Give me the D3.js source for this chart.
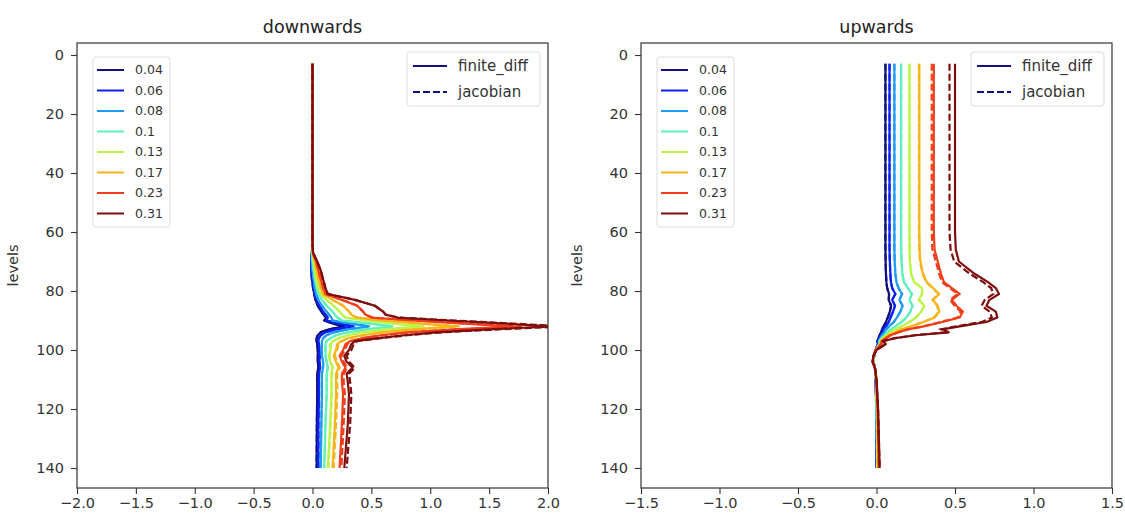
<!DOCTYPE html>
<html><head><meta charset="utf-8">
<script src="https://cdn.jsdelivr.net/npm/d3@7"></script>
<style>body{margin:0;background:#fff} text{font-family:"DejaVu Sans",sans-serif}</style>
</head><body><svg id="c" width="1125" height="517"></svg>
<script>
// ---------- DATA ----------
const seriesLabels = ["0.04","0.06","0.08","0.1","0.13","0.17","0.23","0.31"];
const seriesColors = ["#10107e","#0a22f5","#1e9cf5","#5ff0bc","#bcf548","#f8b418","#f03e1a","#7e0e0e"];
const methodLabels = ["finite_diff","jacobian"];
const yTicks = [0,20,40,60,80,100,120,140];
const xTicksDown = [-2,-1.5,-1,-0.5,0,0.5,1,1.5,2];
const xTicksUp = [-1.5,-1,-0.5,0,0.5,1,1.5];

const levelsDown = [3,64,67,70,73,76,79,81,83,85,87,88,89,90,91,92,93,94,95,96,97,98,100,102,104,106,108,111,115,125,140];
const downFD = [
 [0,0,-0.005,-0.01,-0.01,-0.005,0.005,0.015,0.025,0.045, 0.075,0.095,0.115,0.1,0.17, 0.27,0.14,0.07,0.045,0.035, 0.035,0.04,0.045,0.045,0.045, 0.05,0.04,0.04,0.04,0.037, 0.035],
 [0,0,-0.005,-0.01,-0.01,0,0.01,0.02,0.035,0.06, 0.09,0.11,0.13,0.12,0.22, 0.35,0.2,0.11,0.07,0.055, 0.05,0.055,0.06,0.06,0.06, 0.065,0.055,0.055,0.055,0.05, 0.05],
 [0,0,-0.005,-0.005,0,0.01,0.02,0.03,0.05,0.08, 0.12,0.14,0.16,0.17,0.32, 0.48,0.3,0.18,0.12,0.09, 0.08,0.08,0.08,0.08,0.09, 0.09,0.08,0.08,0.08,0.075, 0.07],
 [0,0,-0.005,0,0.01,0.02,0.035,0.05,0.08,0.12, 0.17,0.19,0.21,0.25,0.47, 0.68,0.45,0.3,0.2,0.15, 0.12,0.11,0.11,0.11,0.12, 0.13,0.12,0.12,0.12,0.11, 0.10],
 [0,0,0,0.01,0.02,0.03,0.05,0.07,0.12,0.18, 0.23,0.25,0.28,0.45,0.68, 0.92,0.62,0.42,0.3,0.22, 0.17,0.15,0.15,0.14,0.15, 0.17,0.16,0.16,0.16,0.15, 0.13],
 [0,0,0,0.02,0.035,0.05,0.07,0.09,0.17,0.26, 0.31,0.33,0.37,0.6,0.9, 1.2,0.85,0.58,0.42,0.3, 0.24,0.21,0.2,0.18,0.2, 0.22,0.2,0.2,0.2,0.19, 0.17],
 [0,0,0.003,0.03,0.05,0.07,0.09,0.11,0.25,0.38, 0.43,0.45,0.5,0.85,1.25, 1.7,1.2,0.8,0.58,0.42, 0.32,0.28,0.26,0.23,0.25, 0.28,0.25,0.25,0.26,0.25, 0.23],
 [0,0,0.005,0.04,0.07,0.09,0.11,0.13,0.36,0.53, 0.6,0.62,0.72,1.15,1.6, 2.05,1.5,1.05,0.78,0.56, 0.36,0.33,0.31,0.27,0.29, 0.34,0.29,0.3,0.31,0.3, 0.27]
];
const downJac = [
 [0,0,-0.005,-0.01,-0.01,-0.005,0.005,0.015,0.025,0.045, 0.075,0.095,0.115,0.1,0.17, 0.27,0.14,0.07,0.045,0.035, 0.035,0.04,0.045,0.045,0.045, 0.05,0.04,0.04,0.04,0.037, 0.035],
 [0,0,-0.005,-0.01,-0.01,0,0.01,0.02,0.035,0.06, 0.09,0.11,0.13,0.12,0.22, 0.35,0.2,0.11,0.07,0.055, 0.05,0.055,0.06,0.06,0.06, 0.065,0.055,0.055,0.055,0.05, 0.05],
 [0,0,-0.005,-0.005,0,0.01,0.02,0.03,0.05,0.08, 0.12,0.14,0.16,0.17,0.32, 0.48,0.3,0.18,0.12,0.09, 0.08,0.08,0.08,0.08,0.09, 0.09,0.08,0.08,0.08,0.075, 0.07],
 [0,0,-0.005,0,0.01,0.02,0.035,0.05,0.08,0.12, 0.17,0.19,0.21,0.25,0.47, 0.68,0.45,0.3,0.2,0.15, 0.12,0.11,0.11,0.11,0.12, 0.13,0.12,0.12,0.12,0.11, 0.10],
 [0,0,0,0.01,0.02,0.03,0.05,0.07,0.12,0.18, 0.23,0.25,0.28,0.46,0.7, 0.95,0.64,0.43,0.31,0.225, 0.175,0.155,0.155,0.145,0.155, 0.175,0.165,0.165,0.165,0.155, 0.135],
 [0,0,0,0.02,0.035,0.05,0.07,0.09,0.17,0.26, 0.31,0.33,0.38,0.62,0.93, 1.25,0.88,0.6,0.43,0.31, 0.25,0.22,0.21,0.19,0.21, 0.23,0.21,0.21,0.21,0.2, 0.18],
 [0,0,0.003,0.03,0.05,0.07,0.09,0.11,0.25,0.38, 0.43,0.45,0.51,0.88,1.3, 1.78,1.25,0.83,0.6,0.44, 0.335,0.295,0.275,0.245,0.265, 0.295,0.265,0.265,0.275,0.265, 0.245],
 [0,0,0.005,0.04,0.07,0.09,0.11,0.13,0.36,0.53, 0.6,0.62,0.73,1.2,1.68, 2.15,1.58,1.1,0.8,0.58, 0.38,0.35,0.33,0.29,0.31, 0.36,0.31,0.32,0.33,0.32, 0.29]
];

const levelsUp = [3,60,66,70,74,77,79,81,83,85,87,89,90.5,92,93,94,95,96,97,98,99,100,102,104,106,110,120,130,140];
const upFD = [
 [0.057,0.057,0.057,0.058,0.06,0.063,0.068,0.08,0.078,0.093, 0.085,0.072,0.06,0.045,0.035, 0.03,0.02,0.012,0.005,0.01, 0.0,-0.005,-0.015,-0.02,-0.01, -0.005,-0.002,0.0,0.0],
 [0.083,0.083,0.083,0.085,0.088,0.092,0.1,0.12,0.1,0.118, 0.105,0.09,0.078,0.06,0.045, 0.04,0.028,0.018,0.01,0.012, 0.002,-0.005,-0.015,-0.02,-0.01, -0.005,-0.001,0.001,0.002],
 [0.114,0.114,0.114,0.116,0.12,0.127,0.14,0.163,0.146,0.166, 0.152,0.13,0.11,0.08,0.06, 0.05,0.035,0.024,0.015,0.015, 0.004,-0.005,-0.016,-0.02,-0.01, -0.004,0.0,0.002,0.003],
 [0.157,0.157,0.157,0.16,0.164,0.175,0.2,0.225,0.21,0.23, 0.215,0.19,0.16,0.12,0.09, 0.07,0.05,0.032,0.02,0.02, 0.006,-0.006,-0.017,-0.021,-0.01, -0.004,0.001,0.003,0.004],
 [0.21,0.21,0.211,0.213,0.22,0.24,0.29,0.29,0.27,0.305, 0.285,0.25,0.21,0.16,0.12, 0.09,0.06,0.04,0.025,0.022, 0.008,-0.006,-0.018,-0.022,-0.01, -0.003,0.003,0.005,0.006],
 [0.273,0.273,0.275,0.28,0.295,0.32,0.36,0.4,0.36,0.39, 0.4,0.37,0.3,0.22,0.16, 0.12,0.08,0.05,0.03,0.025, 0.01,-0.006,-0.018,-0.023,-0.01, -0.002,0.005,0.008,0.009],
 [0.365,0.365,0.37,0.39,0.41,0.43,0.48,0.53,0.48,0.51, 0.55,0.53,0.42,0.3,0.2, 0.14,0.09,0.06,0.035,0.03, 0.012,-0.006,-0.02,-0.024,-0.01, -0.001,0.008,0.012,0.015],
 [0.5,0.5,0.505,0.525,0.62,0.71,0.76,0.78,0.72,0.7, 0.76,0.77,0.7,0.53,0.42, 0.46,0.25,0.12,0.04,0.06, 0.03,0.0,-0.02,-0.025,-0.01, 0.0,0.01,0.015,0.02]
];
const upJac = [
 [0.057,0.057,0.057,0.058,0.06,0.063,0.068,0.08,0.078,0.093, 0.085,0.072,0.06,0.045,0.035, 0.03,0.02,0.012,0.005,0.01, 0.0,-0.005,-0.015,-0.02,-0.01, -0.005,-0.002,0.0,0.0],
 [0.083,0.083,0.083,0.085,0.088,0.092,0.1,0.12,0.1,0.118, 0.105,0.09,0.078,0.06,0.045, 0.04,0.028,0.018,0.01,0.012, 0.002,-0.005,-0.015,-0.02,-0.01, -0.005,-0.001,0.001,0.002],
 [0.114,0.114,0.114,0.116,0.12,0.127,0.14,0.163,0.146,0.166, 0.152,0.13,0.11,0.08,0.06, 0.05,0.035,0.024,0.015,0.015, 0.004,-0.005,-0.016,-0.02,-0.01, -0.004,0.0,0.002,0.003],
 [0.157,0.157,0.157,0.16,0.164,0.175,0.2,0.225,0.21,0.23, 0.215,0.19,0.16,0.12,0.09, 0.07,0.05,0.032,0.02,0.02, 0.006,-0.006,-0.017,-0.021,-0.01, -0.004,0.001,0.003,0.004],
 [0.21,0.21,0.211,0.213,0.22,0.24,0.29,0.29,0.27,0.305, 0.285,0.25,0.21,0.16,0.12, 0.09,0.06,0.04,0.025,0.022, 0.008,-0.006,-0.018,-0.022,-0.01, -0.003,0.003,0.005,0.006],
 [0.27,0.27,0.272,0.277,0.292,0.317,0.356,0.396,0.356,0.386, 0.396,0.366,0.297,0.218,0.158, 0.119,0.079,0.05,0.03,0.025, 0.01,-0.006,-0.018,-0.023,-0.01, -0.002,0.005,0.008,0.009],
 [0.352,0.352,0.356,0.378,0.398,0.418,0.467,0.517,0.468,0.498, 0.537,0.518,0.41,0.295,0.197, 0.138,0.089,0.059,0.035,0.03, 0.012,-0.006,-0.02,-0.024,-0.01, -0.001,0.008,0.012,0.015],
 [0.465,0.465,0.472,0.495,0.59,0.68,0.73,0.745,0.69,0.67, 0.72,0.735,0.67,0.51,0.41, 0.44,0.24,0.115,0.04,0.055, 0.028,0.0,-0.02,-0.025,-0.01, 0.0,0.01,0.015,0.02]
];

// ---------- DRAWING ----------
const svg = d3.select("#c");
const defs = svg.append("defs");
const TOP = 43, BOTTOM = 488;
const axisColor = "#333";

function panel(cfg, idx) {
  const x = d3.scaleLinear().domain(cfg.xDomain).range([cfg.left, cfg.right]);
  const y = d3.scaleLinear().domain([-4.07, 146.78]).range([TOP, BOTTOM]);
  const g = svg.append("g");
  const clipId = "clip" + idx;
  defs.append("clipPath").attr("id", clipId).append("rect")
    .attr("x", cfg.left).attr("y", TOP).attr("width", cfg.right - cfg.left).attr("height", BOTTOM - TOP);

  const line = d3.line().x(d => x(d[0])).y(d => y(d[1]));
  const lg = g.append("g").attr("clip-path", `url(#${clipId})`);
  for (let s = 0; s < seriesLabels.length; s++) {
    const fd = cfg.levels.map((l, i) => [cfg.fd[s][i], l]);
    const jac = cfg.levels.map((l, i) => [cfg.jac[s][i], l]);
    lg.append("path").attr("d", line(fd)).attr("fill", "none")
      .attr("stroke", seriesColors[s]).attr("stroke-width", 2.2).attr("stroke-linejoin", "round");
    lg.append("path").attr("d", line(jac)).attr("fill", "none")
      .attr("stroke", seriesColors[s]).attr("stroke-width", 2.2).attr("stroke-dasharray", "7,3");
  }

  // axes
  const xa = g.append("g").attr("transform", `translate(0,${BOTTOM})`)
    .call(d3.axisBottom(x).tickValues(cfg.xTicks).tickFormat(d3.format(".1f")).tickSize(6).tickPadding(3.5));
  const ya = g.append("g").attr("transform", `translate(${cfg.left},0)`)
    .call(d3.axisLeft(y).tickValues(yTicks).tickFormat(d3.format("d")).tickSize(6).tickPadding(7));
  [xa, ya].forEach(a => {
    a.select(".domain").remove();
    a.selectAll("line").attr("stroke", axisColor).attr("stroke-width", 1.1);
    a.selectAll("text").attr("fill", "#333").style("font-size", "14.5px").style("font-family", "DejaVu Sans");
  });
  // frame
  g.append("rect").attr("x", cfg.left).attr("y", TOP).attr("width", cfg.right - cfg.left).attr("height", BOTTOM - TOP)
    .attr("fill", "none").attr("stroke", axisColor).attr("stroke-width", 1.2);

  // title & y label
  g.append("text").attr("x", (cfg.left + cfg.right) / 2).attr("y", 33).attr("text-anchor", "middle")
    .style("font-size", "17.5px").attr("fill", "#222").text(cfg.title);
  g.append("text").attr("transform", `translate(${cfg.left - 59},${(TOP + BOTTOM) / 2}) rotate(-90)`)
    .attr("text-anchor", "middle").style("font-size", "14.5px").attr("fill", "#333").text("levels");

  // colour legend
  const cl = g.append("g").attr("transform", `translate(${cfg.left + 16},57)`);
  cl.append("rect").attr("width", 77).attr("height", 170).attr("rx", 3)
    .attr("fill", "#fff").attr("fill-opacity", 0.85).attr("stroke", "#ddd");
  seriesLabels.forEach((lab, i) => {
    const yy = 13 + i * 20.5;
    cl.append("line").attr("x1", 4).attr("x2", 31).attr("y1", yy).attr("y2", yy)
      .attr("stroke", seriesColors[i]).attr("stroke-width", 2);
    cl.append("text").attr("x", 42).attr("y", yy).attr("dy", "0.35em")
      .style("font-size", "12.5px").attr("fill", "#333").text(lab);
  });

  // method legend
  const ml = g.append("g").attr("transform", `translate(${cfg.right - 141},52)`);
  ml.append("rect").attr("width", 133).attr("height", 54).attr("rx", 3)
    .attr("fill", "#fff").attr("fill-opacity", 0.85).attr("stroke", "#ddd");
  methodLabels.forEach((lab, i) => {
    const yy = 14 + i * 26;
    ml.append("line").attr("x1", 6).attr("x2", 40).attr("y1", yy).attr("y2", yy)
      .attr("stroke", "#10107e").attr("stroke-width", 2).attr("stroke-dasharray", i === 1 ? "7,3" : null);
    ml.append("text").attr("x", 51).attr("y", yy).attr("dy", "0.35em")
      .style("font-size", "15px").attr("fill", "#333").text(lab);
  });
}

panel({title: "downwards", left: 77, right: 548, xDomain: [-2, 2], xTicks: xTicksDown,
       levels: levelsDown, fd: downFD, jac: downJac}, 0);
panel({title: "upwards", left: 641, right: 1112, xDomain: [-1.5, 1.5], xTicks: xTicksUp,
       levels: levelsUp, fd: upFD, jac: upJac}, 1);
</script></body></html>
